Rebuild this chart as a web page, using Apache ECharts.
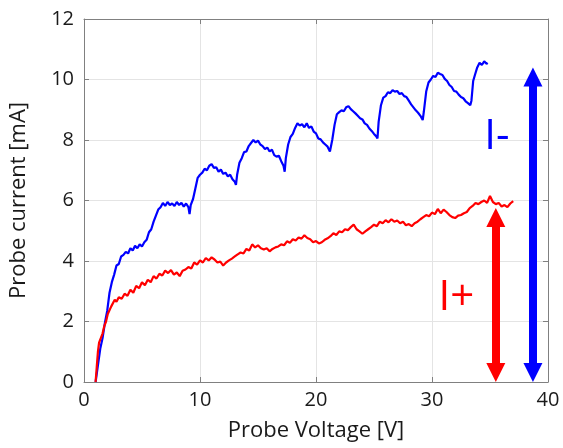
<!DOCTYPE html>
<html>
<head>
<meta charset="utf-8">
<script src="https://cdn.jsdelivr.net/npm/echarts@6/dist/echarts.min.js"></script>
<style>
html,body{margin:0;padding:0;background:#fff;}
#chart{width:563px;height:448px;}
</style>
</head>
<body>
<div id="chart"></div>
<script>
// ---- data ----
const xTicks = [0, 10, 20, 30, 40];
const yTicks = [0, 2, 4, 6, 8, 10, 12];

const blueVoltage = [1.00,1.20,1.40,1.60,1.80,2.00,2.20,2.40,2.60,2.80,3.00,3.20,3.40,3.60,3.80,4.00,4.20,4.40,4.60,4.80,5.00,5.20,5.40,5.60,5.80,6.00,6.20,6.40,6.60,6.80,7.00,7.20,7.40,7.60,7.80,8.00,8.20,8.40,8.60,8.80,9.00,9.10,9.20,9.40,9.60,9.80,10.00,10.20,10.40,10.60,10.80,11.00,11.20,11.40,11.60,11.80,12.00,12.20,12.40,12.60,12.80,13.00,13.10,13.20,13.40,13.60,13.80,14.00,14.20,14.40,14.60,14.80,15.00,15.20,15.40,15.60,15.80,16.00,16.20,16.40,16.60,16.80,17.00,17.20,17.30,17.40,17.60,17.80,18.00,18.20,18.40,18.60,18.80,19.00,19.20,19.40,19.60,19.80,20.00,20.20,20.40,20.60,20.80,21.00,21.20,21.30,21.40,21.60,21.80,22.00,22.20,22.40,22.60,22.80,23.00,23.20,23.40,23.60,23.80,24.00,24.20,24.40,24.60,24.80,25.00,25.20,25.30,25.40,25.60,25.80,26.00,26.20,26.40,26.60,26.80,27.00,27.20,27.40,27.60,27.80,28.00,28.20,28.40,28.60,28.80,29.00,29.20,29.30,29.50,29.70,29.90,30.10,30.30,30.50,30.70,30.90,31.10,31.30,31.50,31.70,31.90,32.10,32.30,32.50,32.70,32.90,33.10,33.30,33.40,33.55,33.70,33.90,34.10,34.30,34.50,34.70,34.80];
const blueCurrent = [0.00,0.55,1.10,1.45,1.95,2.35,2.95,3.30,3.55,3.85,3.90,4.15,4.20,4.30,4.25,4.42,4.35,4.50,4.42,4.55,4.48,4.62,4.70,4.95,5.05,5.30,5.50,5.70,5.78,5.92,5.82,5.95,5.85,5.90,5.82,5.95,5.85,5.92,5.80,5.90,5.78,5.55,5.85,6.05,6.40,6.75,6.85,6.92,7.05,7.00,7.15,7.20,7.08,7.10,6.95,7.02,6.88,6.92,6.80,6.85,6.70,6.62,6.52,6.85,7.25,7.40,7.60,7.62,7.80,7.90,8.00,7.92,7.98,7.85,7.80,7.70,7.75,7.62,7.68,7.50,7.45,7.48,7.30,7.15,6.95,7.40,7.85,8.10,8.20,8.40,8.55,8.48,8.52,8.42,8.55,8.40,8.45,8.28,8.22,8.05,8.02,7.92,7.85,7.78,7.62,7.58,8.00,8.50,8.85,8.92,8.98,8.95,9.08,9.12,9.02,8.95,8.88,8.80,8.72,8.68,8.55,8.50,8.38,8.30,8.20,8.12,8.05,8.60,9.15,9.40,9.45,9.58,9.55,9.65,9.60,9.62,9.52,9.55,9.45,9.42,9.30,9.18,9.08,8.98,8.90,8.80,8.66,8.95,9.60,9.90,10.00,10.12,10.08,10.22,10.18,10.15,10.02,9.95,9.82,9.75,9.62,9.60,9.50,9.42,9.38,9.28,9.22,9.15,9.30,9.95,10.15,10.40,10.55,10.48,10.60,10.52,10.55];

const redVoltage = [1.00,1.10,1.20,1.30,1.45,1.60,1.75,1.90,2.05,2.20,2.35,2.50,2.65,2.80,3.00,3.25,3.50,3.75,4.00,4.25,4.50,4.75,5.00,5.25,5.50,5.75,6.00,6.25,6.50,6.75,7.00,7.25,7.50,7.75,8.00,8.25,8.50,8.75,9.00,9.25,9.50,9.75,10.00,10.25,10.50,10.75,11.00,11.25,11.50,11.75,12.00,12.25,12.50,12.75,13.00,13.25,13.50,13.75,14.00,14.25,14.50,14.75,15.00,15.25,15.50,15.75,16.00,16.25,16.50,16.75,17.00,17.25,17.50,17.75,18.00,18.25,18.50,18.75,19.00,19.25,19.50,19.75,20.00,20.25,20.50,20.75,21.00,21.25,21.50,21.75,22.00,22.25,22.50,22.75,23.00,23.25,23.50,23.75,24.00,24.25,24.50,24.75,25.00,25.25,25.50,25.75,26.00,26.25,26.50,26.75,27.00,27.25,27.50,27.75,28.00,28.25,28.50,28.75,29.00,29.25,29.50,29.75,30.00,30.25,30.50,30.75,31.00,31.25,31.50,31.75,32.00,32.25,32.50,32.75,33.00,33.25,33.50,33.75,34.00,34.25,34.50,34.75,35.00,35.25,35.50,35.75,36.00,36.25,36.50,36.75,37.00];
const redCurrent = [0.00,0.50,1.00,1.30,1.25,1.60,1.85,2.00,2.25,2.30,2.50,2.55,2.72,2.65,2.80,2.75,2.92,2.85,3.05,2.95,3.18,3.10,3.30,3.20,3.38,3.30,3.50,3.42,3.58,3.52,3.68,3.60,3.70,3.55,3.62,3.50,3.68,3.72,3.80,3.75,3.95,3.88,4.02,3.95,4.10,4.02,4.12,4.05,3.95,3.98,3.85,3.95,4.02,4.08,4.15,4.22,4.28,4.25,4.40,4.35,4.55,4.45,4.52,4.42,4.38,4.42,4.32,4.40,4.45,4.48,4.55,4.52,4.65,4.60,4.72,4.68,4.78,4.74,4.85,4.76,4.72,4.62,4.66,4.58,4.62,4.70,4.75,4.82,4.92,4.86,4.98,4.95,5.05,5.02,5.12,5.20,5.05,4.98,4.90,4.98,5.05,5.12,5.20,5.15,5.30,5.25,5.35,5.28,5.38,5.30,5.34,5.25,5.30,5.18,5.22,5.15,5.25,5.30,5.38,5.45,5.52,5.48,5.60,5.55,5.72,5.58,5.70,5.62,5.52,5.45,5.42,5.50,5.52,5.58,5.62,5.75,5.82,5.92,5.88,5.95,6.00,5.92,6.15,5.95,5.88,5.92,5.80,5.85,5.78,5.90,5.98];

// arrows: [x, bottom, top]
const redArrow = [35.5, 0, 5.75];
const blueArrow = [38.7, 0, 10.4];
// labels: [x, y, text]
const redLabel = [32.1, 2.78, 'I+'];
const blueLabel = [35.6, 8.1, 'I-'];

// ---- chart ----
const FONT = 'Open Sans';
const chart = echarts.init(document.getElementById('chart'), null, {renderer: 'canvas'});
const pxPerUnitY = (448 - 66 - 19) / 12;
const headHalf = 9.5 / pxPerUnitY;

function zip(a, b) { return a.map((v, i) => [v, b[i]]); }

function arrowLine(arr, color) {
  return {
    silent: true,
    symbol: ['triangle', 'triangle'],
    symbolSize: [19, 19],
    label: {show: false},
    lineStyle: {color: color, width: 8, type: 'solid', opacity: 1},
    emphasis: {disabled: true},
    data: [[{coord: [arr[0], arr[1] + headHalf]}, {coord: [arr[0], arr[2] - headHalf]}]]
  };
}
function labelPoint(lab, color) {
  return {
    silent: true,
    symbol: 'circle',
    symbolSize: 0,
    label: {show: true, position: 'inside', formatter: lab[2], fontSize: 42, fontFamily: FONT, color: color},
    data: [{coord: [lab[0], lab[1]], value: lab[2]}]
  };
}

const axisLineStyle = {color: '#808080', width: 1};
const option = {
  animation: false,
  backgroundColor: '#fff',
  grid: {left: 82, right: 15, top: 19, bottom: 66},
  xAxis: [{
    type: 'value', min: xTicks[0], max: xTicks[xTicks.length - 1], interval: 10,
    position: 'bottom',
    axisLine: {show: true, onZero: false, lineStyle: axisLineStyle},
    axisTick: {show: true, inside: true, length: 5, lineStyle: axisLineStyle},
    splitLine: {show: true, lineStyle: {color: '#e4e4e4', width: 1}},
    axisLabel: {fontSize: 20, color: '#1a1a1a', fontFamily: FONT, margin: 8},
    name: 'Probe Voltage [V]', nameLocation: 'middle', nameGap: 38,
    nameTextStyle: {fontSize: 22, color: '#1a1a1a', fontFamily: FONT}
  }, {
    type: 'value', min: xTicks[0], max: xTicks[xTicks.length - 1], interval: 10,
    position: 'top',
    axisLine: {show: true, onZero: false, lineStyle: axisLineStyle},
    axisTick: {show: true, inside: true, length: 5, lineStyle: axisLineStyle},
    splitLine: {show: false}, axisLabel: {show: false}
  }],
  yAxis: [{
    type: 'value', min: yTicks[0], max: yTicks[yTicks.length - 1], interval: 2,
    position: 'left',
    axisLine: {show: true, onZero: false, lineStyle: axisLineStyle},
    axisTick: {show: true, inside: true, length: 5, lineStyle: axisLineStyle},
    splitLine: {show: true, lineStyle: {color: '#e4e4e4', width: 1}},
    axisLabel: {fontSize: 20, color: '#1a1a1a', fontFamily: FONT, margin: 10},
    name: 'Probe current [mA]', nameLocation: 'middle', nameGap: 54,
    nameTextStyle: {fontSize: 22, color: '#1a1a1a', fontFamily: FONT}
  }, {
    type: 'value', min: yTicks[0], max: yTicks[yTicks.length - 1], interval: 2,
    position: 'right',
    axisLine: {show: true, onZero: false, lineStyle: axisLineStyle},
    axisTick: {show: true, inside: true, length: 5, lineStyle: axisLineStyle},
    splitLine: {show: false}, axisLabel: {show: false}
  }],
  series: [{
    name: 'I+', type: 'line', xAxisIndex: 0, yAxisIndex: 0,
    data: zip(redVoltage, redCurrent),
    showSymbol: false, symbol: 'none',
    lineStyle: {color: '#ff0000', width: 2.2},
    itemStyle: {color: '#ff0000'},
    z: 3,
    markLine: arrowLine(redArrow, '#ff0000'),
    markPoint: labelPoint(redLabel, '#ff0000')
  }, {
    name: 'I-', type: 'line', xAxisIndex: 0, yAxisIndex: 0,
    data: zip(blueVoltage, blueCurrent),
    showSymbol: false, symbol: 'none',
    lineStyle: {color: '#0000ff', width: 2.2},
    itemStyle: {color: '#0000ff'},
    z: 2,
    markLine: arrowLine(blueArrow, '#0000ff'),
    markPoint: labelPoint(blueLabel, '#0000ff')
  }]
};
chart.setOption(option);
</script>
</body>
</html>
